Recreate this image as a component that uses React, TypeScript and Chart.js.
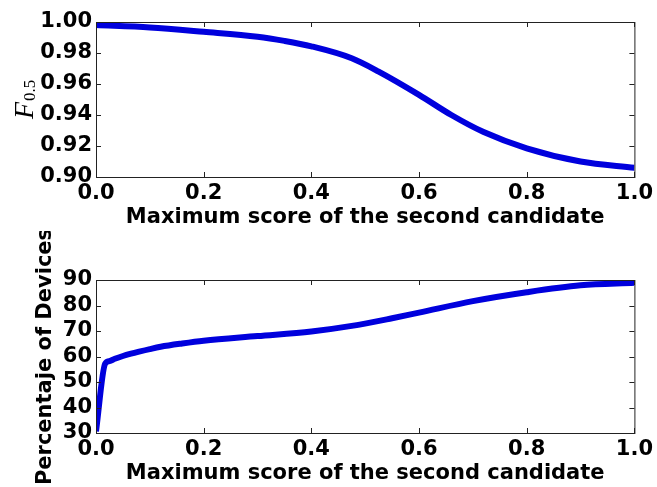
import React, { useEffect, useRef } from 'react';
import { Chart, registerables } from 'chart.js';

Chart.register(...registerables);

// top panel: F0.5 against max score of the second candidate
const topX = [0.0, 0.1, 0.2, 0.3, 0.35, 0.4, 0.475, 0.525, 0.6, 0.66, 0.72, 0.8, 0.9, 1.0];
const topF = [0.998, 0.9965, 0.9937, 0.9905, 0.9878, 0.9843, 0.9766, 0.968, 0.953, 0.94, 0.929, 0.9185, 0.91, 0.906];

// bottom panel: percentage of devices
const bottomX = [0.0, 0.017, 0.025, 0.035, 0.05, 0.065, 0.08, 0.1, 0.12, 0.16, 0.2, 0.3, 0.4, 0.475, 0.55, 0.6, 0.7, 0.8, 0.9, 1.0];
const bottomPct = [30.6, 57.2, 58.2, 59.1, 60.2, 61.1, 61.9, 62.9, 63.8, 65.1, 66.2, 68.0, 69.8, 72.0, 75.0, 77.2, 81.7, 85.2, 87.9, 88.9];

const xTitle = 'Maximum score of the second candidate';
const bottomYTitle = 'Percentaje of Devices';

const FONT = '"DejaVu Sans", sans-serif';
const LINE_COLOR = '#0000dd';

// matplotlib-like frame with inward ticks on all four sides
const framePlugin = {
  id: 'frame',
  afterDraw(chart: any) {
    const { ctx, chartArea: a, scales } = chart;
    ctx.save();
    ctx.strokeStyle = '#222';
    ctx.lineWidth = 1;
    ctx.strokeRect(a.left + 0.5, a.top + 0.5, a.right - a.left, a.bottom - a.top);
    const len = 5;
    ctx.beginPath();
    scales.x.ticks.forEach((t: any) => {
      const px = Math.round(scales.x.getPixelForValue(t.value)) + 0.5;
      ctx.moveTo(px, a.bottom);
      ctx.lineTo(px, a.bottom - len);
      ctx.moveTo(px, a.top);
      ctx.lineTo(px, a.top + len);
    });
    scales.y.ticks.forEach((t: any) => {
      const py = Math.round(scales.y.getPixelForValue(t.value)) + 0.5;
      ctx.moveTo(a.left, py);
      ctx.lineTo(a.left + len, py);
      ctx.moveTo(a.right, py);
      ctx.lineTo(a.right - len, py);
    });
    ctx.stroke();
    ctx.restore();
  },
};

// F_{0.5} label with subscript, rotated
const fLabelPlugin = {
  id: 'fLabel',
  afterDraw(chart: any) {
    const { ctx } = chart;
    ctx.save();
    ctx.translate(33, 119);
    ctx.rotate(-Math.PI / 2);
    ctx.fillStyle = '#000';
    ctx.textBaseline = 'alphabetic';
    ctx.font = 'italic 28px "Liberation Serif", serif';
    ctx.fillText('F', 0, 0);
    const w = ctx.measureText('F').width;
    ctx.font = '17px "Liberation Serif", serif';
    ctx.fillText('0.5', w + 1, 2);
    ctx.restore();
  },
};

function makeXScale() {
  return {
    type: 'linear' as const,
    min: 0,
    max: 1,
    grid: { display: false, drawTicks: false },
    border: { display: false },
    ticks: {
      stepSize: 0.2,
      padding: 4,
      color: '#000',
      maxRotation: 0,
      autoSkip: false,
      font: { family: FONT, size: 21, weight: 'bold' as const },
      callback: (v: any) => Number(v).toFixed(1),
    },
    title: {
      display: true,
      text: xTitle,
      color: '#000',
      font: { family: FONT, size: 21, weight: 'bold' as const },
      padding: { top: 0, bottom: 1 },
    },
    afterFit: (s: any) => {
      s.height = 54;
    },
  };
}

const PanelChart: React.FC<{
  xs: number[];
  ys: number[];
  yMin: number;
  yMax: number;
  yStep: number;
  yDecimals: number;
  yTitle?: string;
  padTop: number;
  extraPlugins: any[];
}> = ({ xs, ys, yMin, yMax, yStep, yDecimals, yTitle, padTop, extraPlugins }) => {
  const canvasRef = useRef<HTMLCanvasElement>(null);

  useEffect(() => {
    if (!canvasRef.current) return;
    const chart = new Chart(canvasRef.current, {
      type: 'line',
      data: {
        datasets: [
          {
            data: xs.map((x, i) => ({ x, y: ys[i] })),
            borderColor: LINE_COLOR,
            borderWidth: 6,
            pointRadius: 0,
            cubicInterpolationMode: 'monotone',
            fill: false,
            clip: 0,
          },
        ],
      },
      options: {
        animation: false,
        responsive: true,
        maintainAspectRatio: false,
        layout: { padding: { top: padTop, right: 20, left: 0, bottom: 0 } },
        plugins: { legend: { display: false }, tooltip: { enabled: false } },
        scales: {
          x: makeXScale(),
          y: {
            type: 'linear',
            min: yMin,
            max: yMax,
            grid: { display: false, drawTicks: false },
            border: { display: false },
            ticks: {
              stepSize: yStep,
              padding: 4,
              color: '#000',
              autoSkip: false,
              font: { family: FONT, size: 21, weight: 'bold' },
              callback: (v: any) => Number(v).toFixed(yDecimals),
            },
            title: {
              display: !!yTitle,
              text: yTitle || '',
              color: '#000',
              font: { family: FONT, size: 21, weight: 'bold' },
              padding: { top: 33, bottom: 0 },
            },
            afterFit: (s: any) => {
              s.width = 96;
            },
          },
        },
      },
      plugins: [framePlugin, ...extraPlugins],
    });
    return () => {
      chart.destroy();
    };
  }, []);

  return <canvas ref={canvasRef}></canvas>;
};

export default function App() {
  return (
    <div style={{ position: 'absolute', left: 0, top: 0, width: 657, height: 487, background: '#fff' }}>
      <div style={{ position: 'absolute', left: 0, top: 0, width: 657, height: 231 }}>
        <PanelChart
          xs={topX}
          ys={topF}
          yMin={0.9}
          yMax={1.0}
          yStep={0.02}
          yDecimals={2}
          padTop={22}
          extraPlugins={[fLabelPlugin]}
        />
      </div>
      <div style={{ position: 'absolute', left: 0, top: 231, width: 657, height: 256 }}>
        <PanelChart
          xs={bottomX}
          ys={bottomPct}
          yMin={30}
          yMax={90}
          yStep={10}
          yDecimals={0}
          yTitle={bottomYTitle}
          padTop={49}
          extraPlugins={[]}
        />
      </div>
    </div>
  );
}
